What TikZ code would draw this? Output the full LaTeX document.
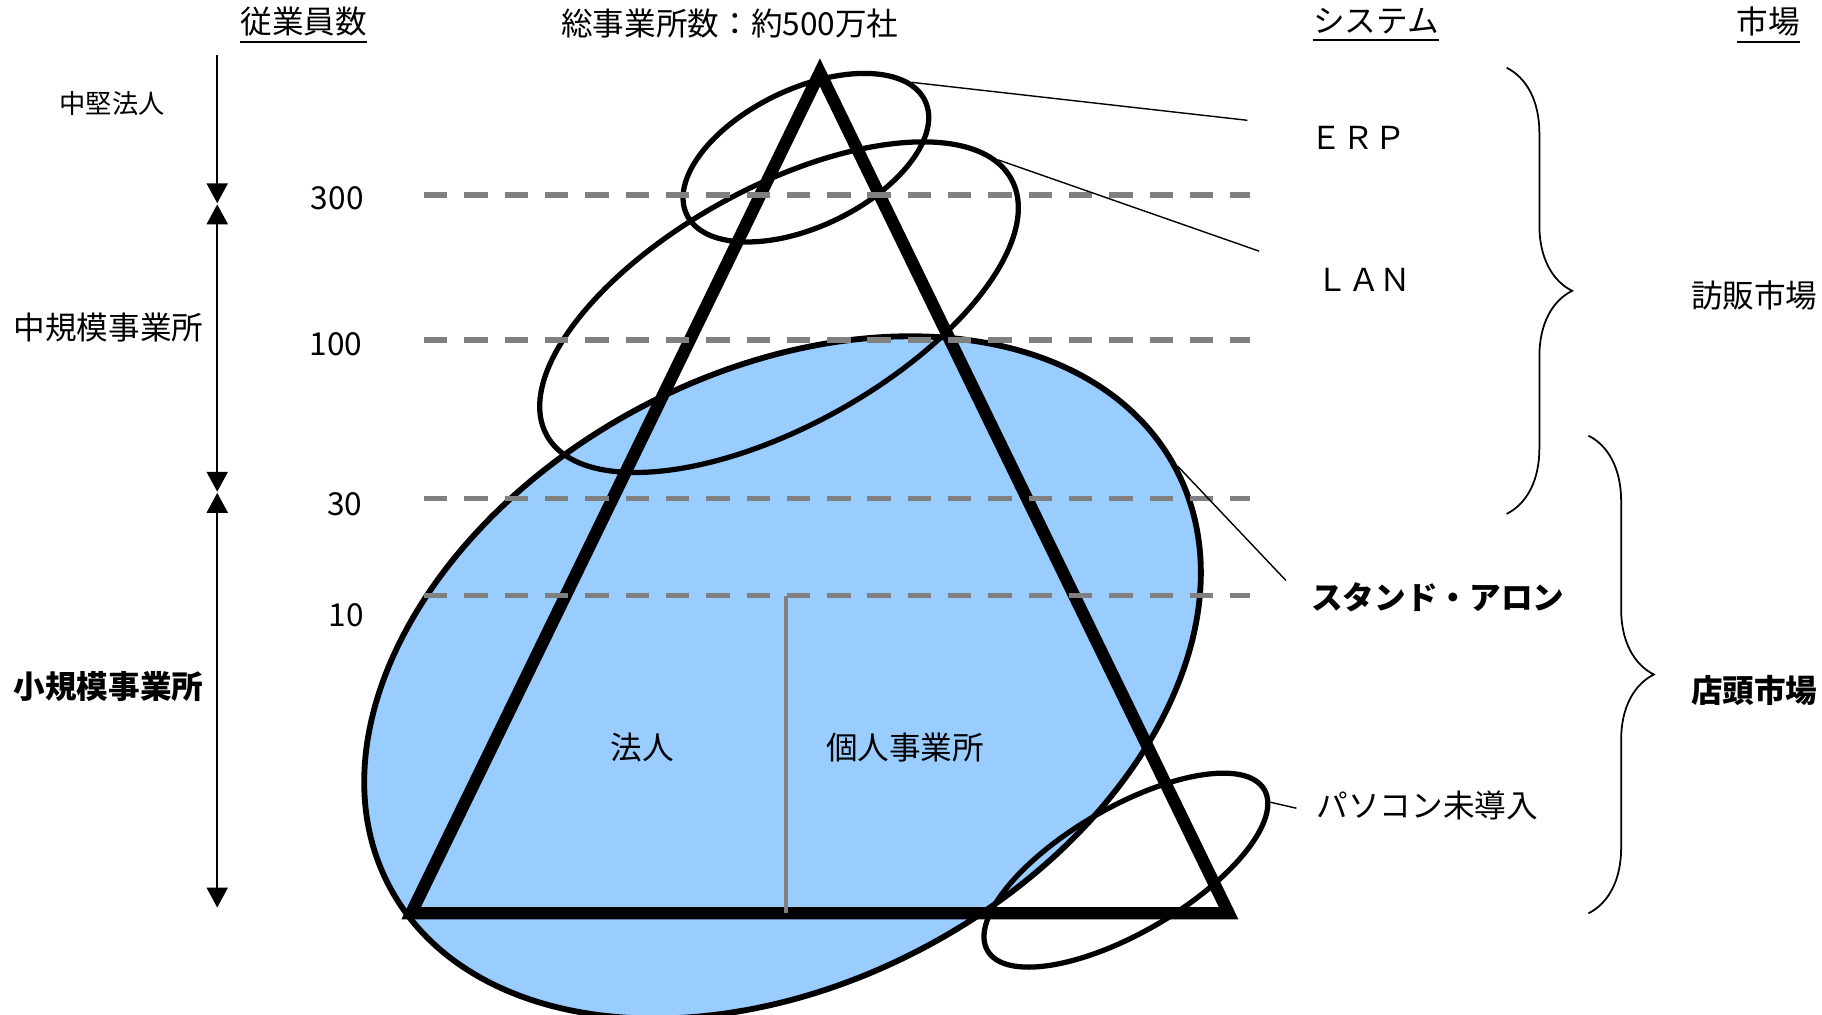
\documentclass[tikz,border=0pt]{standalone}
\usepackage{fontspec}
\setmainfont{Noto Sans CJK JP}
\usetikzlibrary{arrows.meta,shapes.geometric,decorations.pathreplacing}
\definecolor{skyfill}{HTML}{99CCFF}
\definecolor{dashgray}{HTML}{808080}

\begin{document}
\begin{tikzpicture}[x=0.01cm,y=-0.01cm,
    lbl/.style={inner sep=0pt,font=\fontsize{7.7}{9}\selectfont},
    boldlbl/.style={inner sep=0pt,font=\fontsize{7.7}{9}\selectfont\bfseries},
    oval/.style={ellipse,draw,line width=0.045cm,inner sep=0pt},
    lead/.style={line width=0.012cm},
    dashline/.style={draw=dashgray,line width=0.045cm,dash pattern=on 0.2cm off 0.145cm},
    sizearrow/.style={line width=0.015cm,>={Triangle[width=0.18cm,length=0.17cm]}},
    curly/.style={decorate,decoration={brace,amplitude=0.56cm},line width=0.015cm}]
    \useasboundingbox (0,0) rectangle (1560,869);
    % ellipses and the triangle
    \node[oval,fill=skyfill,line width=0.05cm,rotate=28.1,minimum width=7.62cm,minimum height=5.22cm] (BIG) at (670,580) {};
    \draw[line width=0.105cm,line join=miter] (702,62) -- (352,782) -- (1052,782) -- cycle;
    \node[oval,rotate=25.5,minimum width=2.26cm,minimum height=1.18cm] (EERP) at (690,135) {};
    \node[oval,rotate=28.9,minimum width=4.54cm,minimum height=2.04cm] (ELAN) at (667,263) {};
    \node[oval,rotate=30.2,minimum width=2.74cm,minimum height=1.07cm] (EPC) at (964,745) {};
    % levels
    \draw[dashline] (363,167) -- (1070,167);
    \draw[dashline] (363,291) -- (1070,291);
    \draw[dashline] (363,427) -- (1070,427);
    \draw[dashline] (363,510) -- (1070,510);
    \draw[draw=dashgray,line width=0.03cm] (673,510) -- (673,782);
    % left scale
    \draw[sizearrow,->] (186,47) -- (186,174);
    \draw[sizearrow,<->] (186,175) -- (186,421);
    \draw[sizearrow,<->] (186,422) -- (186,777);
    % braces
    \draw[curly] (1290,58) -- (1290,440);
    \draw[curly] (1360,373) -- (1360,782);
    % texts
    \node[lbl] (EMP) at (260,22) {\underline{従業員数}};
    \node[lbl] (TOTAL) at (625,20) {総事業所数：約500万社};
    \node[lbl] (SYS) at (1178,22) {\underline{システム}};
    \node[lbl] (MKT) at (1514,22) {\underline{市場}};
    \node[inner sep=0pt,font=\fontsize{6.4}{8}\selectfont] (MID) at (96,89) {中堅法人};
    \node[lbl] (MED) at (93,280) {中規模事業所};
    \node[boldlbl] (SMALL) at (93,588) {小規模事業所};
    \node[lbl,anchor=east] (N300) at (312,170) {300};
    \node[lbl,anchor=east] (N100) at (311,295) {100};
    \node[lbl,anchor=east] (N30) at (311,432) {30};
    \node[lbl,anchor=east] (N10) at (312,527) {10};
    \node[lbl] (CORP) at (550,640) {法人};
    \node[lbl] (SOLE) at (775,640) {個人事業所};
    \node[lbl] (ERP) at (1163,118) {ＥＲＰ};
    \node[lbl] (LAN) at (1168,240) {ＬＡＮ};
    \node[boldlbl] (SA) at (1231,511) {スタンド・アロン};
    \node[lbl] (PC) at (1222,690) {パソコン未導入};
    \node[lbl] (VISIT) at (1502,253) {訪販市場};
    \node[boldlbl] (SHOP) at (1502,591) {店頭市場};
    % leaders
    \coordinate (ERPend) at (1068,103);
    \coordinate (LANend) at (1078,215);
    \coordinate (SAend) at (1101,497);
    \coordinate (PCend) at (1110,692);
    \draw[lead] (EERP.10) -- (ERPend);
    \draw[lead] (ELAN.5) -- (LANend);
    \draw[lead] (BIG.0) -- (SAend);
    \draw[lead] (EPC.355) -- (PCend);
\end{tikzpicture}
\end{document}
